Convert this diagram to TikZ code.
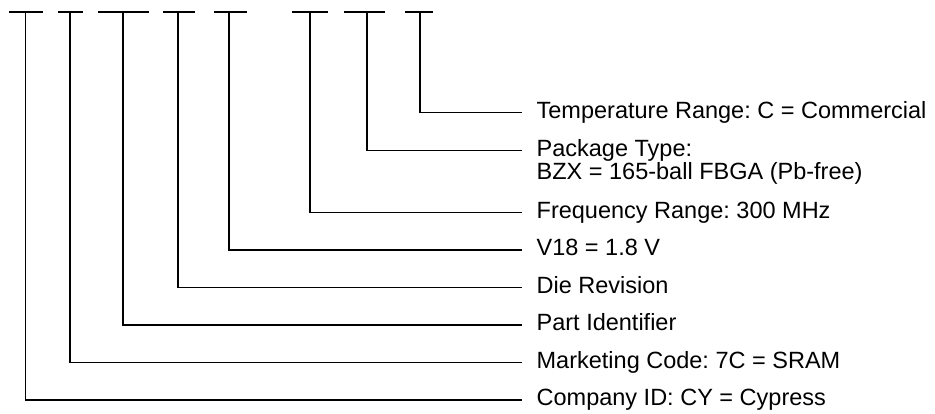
\documentclass[tikz,border=0pt]{standalone}
\usepackage{fontspec}
\setmainfont{Liberation Sans}
\frenchspacing
\begin{document}
\begin{tikzpicture}[x=1pt,y=-1pt,line width=1.3pt,
  lbl/.style={anchor=west,inner xsep=14pt,inner ysep=0pt,
    text height=16.8pt,text depth=4.9pt,
    font=\fontsize{23.5}{23.5}\selectfont\frenchspacing},
  lbl2/.style={anchor=west,inner xsep=14pt,inner ysep=0pt,align=left,
    font=\fontsize{23.5}{23.5}\selectfont\frenchspacing}]
\useasboundingbox (0,0) rectangle (935,413);
% top points of the eight fields
\coordinate (t1) at (25.5,12);
\coordinate (t2) at (70,12);
\coordinate (t3) at (123,12);
\coordinate (t4) at (178,12);
\coordinate (t5) at (229,12);
\coordinate (t6) at (310,12);
\coordinate (t7) at (367,12);
\coordinate (t8) at (420,12);
% labels
\node[lbl] (l1) at (522,400) {Company ID: CY = Cypress};
\node[lbl] (l2) at (522,362.5) {Marketing Code: 7C = SRAM};
\node[lbl] (l3) at (522,325) {Part Identifier};
\node[lbl] (l4) at (522,287.5) {Die Revision};
\node[lbl] (l5) at (522,250) {V18 = 1.8 V};
\node[lbl] (l6) at (522,212.5) {Frequency Range: 300 MHz};
\node[lbl2] (l7) at (522,161.8) {Package Type:\\BZX = 165-ball FBGA (Pb-free)};
\node[lbl] (l8) at (522,112.5) {Temperature Range: C = Commercial};
% top bars
\draw ([xshift=-16.5pt]t1) -- ([xshift=17.5pt]t1);
\draw ([xshift=-12pt]t2) -- ([xshift=13pt]t2);
\draw ([xshift=-25pt]t3) -- ([xshift=26pt]t3);
\draw ([xshift=-15pt]t4) -- ([xshift=17pt]t4);
\draw ([xshift=-15pt]t5) -- ([xshift=18pt]t5);
\draw ([xshift=-18pt]t6) -- ([xshift=18pt]t6);
\draw ([xshift=-23pt]t7) -- ([xshift=18pt]t7);
\draw ([xshift=-15pt]t8) -- ([xshift=13pt]t8);
% connectors
\draw (t1) |- (l1.west);
\draw (t2) |- (l2.west);
\draw (t3) |- (l3.west);
\draw (t4) |- (l4.west);
\draw (t5) |- (l5.west);
\draw (t6) |- (l6.west);
\draw (t7) |- ([yshift=11.5pt]l7.west);
\draw (t8) |- (l8.west);
\end{tikzpicture}
\end{document}
